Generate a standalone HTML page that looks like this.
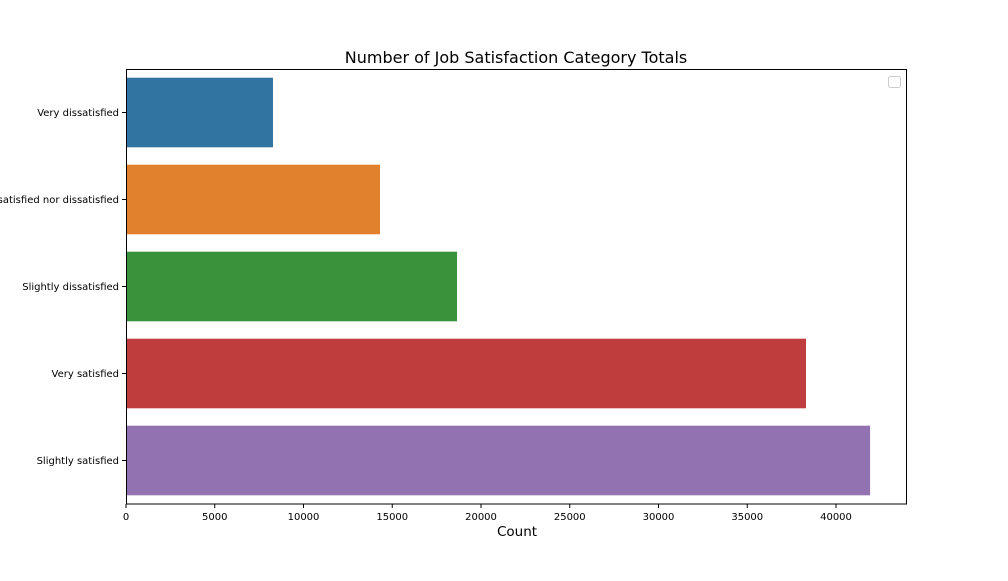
<!DOCTYPE html>
<html><head><meta charset="utf-8"><style>
body{margin:0;background:#fff;}
svg text{font-family:"DejaVu Sans","Liberation Sans",sans-serif;}
</style></head><body>
<svg id="chart" width="1008" height="576" xmlns="http://www.w3.org/2000/svg">
<rect width="1008" height="576" fill="#fff"/>
<text x="516" y="63" font-size="16" text-anchor="middle">Number of Job Satisfaction Category Totals</text>
<g id="bars"></g>
<g id="axes"></g>
<rect x="126.5" y="69.5" width="780" height="434.5" fill="none" stroke="#000" stroke-width="1"/>
<rect x="888.5" y="76.5" width="12" height="11" rx="2" fill="#fff" stroke="#ccc"/>
<text x="517" y="536" font-size="13.5" text-anchor="middle">Count</text>
</svg>
<script>
const categories=["Very dissatisfied","Neither satisfied nor dissatisfied","Slightly dissatisfied","Very satisfied","Slightly satisfied"];
const counts=[8280,14310,18650,38310,41920];
const colors=["#3274a1","#e1812c","#3a923a","#c03d3e","#9372b2"];
const xTicks=[0,5000,10000,15000,20000,25000,30000,35000,40000];
const L=126,R=907,T=69,B=504,XMAX=44000;
const ns="http://www.w3.org/2000/svg";
const x=v=>L+(v/XMAX)*(R-L);
const band=(B-T)/categories.length;
const bars=document.getElementById('bars'),axes=document.getElementById('axes');
categories.forEach((c,i)=>{
  const cy=T+band*(i+0.5),h=band*0.8;
  const r=document.createElementNS(ns,'rect');
  r.setAttribute('x',x(0));r.setAttribute('y',cy-h/2);
  r.setAttribute('width',x(counts[i])-x(0));r.setAttribute('height',h);
  r.setAttribute('fill',colors[i]);
  
  
  bars.appendChild(r);
  const tk=document.createElementNS(ns,'line');
  tk.setAttribute('x1',L-4);tk.setAttribute('x2',L);tk.setAttribute('y1',cy);tk.setAttribute('y2',cy);tk.setAttribute('stroke','#000');
  axes.appendChild(tk);
  const t=document.createElementNS(ns,'text');
  t.setAttribute('x',L-7);t.setAttribute('y',cy+3.5);t.setAttribute('font-size','10');t.setAttribute('text-anchor','end');
  t.textContent=c;
  
  
  axes.appendChild(t);
});
xTicks.forEach(v=>{
  const px=x(v);
  const tk=document.createElementNS(ns,'line');
  tk.setAttribute('x1',px);tk.setAttribute('x2',px);tk.setAttribute('y1',B);tk.setAttribute('y2',B+4);tk.setAttribute('stroke','#000');
  axes.appendChild(tk);
  const t=document.createElementNS(ns,'text');
  t.setAttribute('x',px);t.setAttribute('y',B+16);t.setAttribute('font-size','10');t.setAttribute('text-anchor','middle');
  t.textContent=v;
  
  
  axes.appendChild(t);
});
</script>
</body></html>
